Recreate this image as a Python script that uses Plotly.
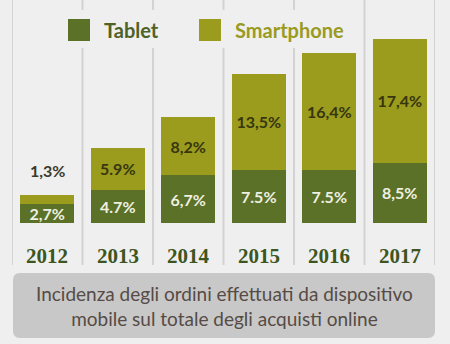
import plotly.graph_objects as go

years = ["2012", "2013", "2014", "2015", "2016", "2017"]
series_names = ["Tablet", "Smartphone"]
tablet = [2.7, 4.7, 6.7, 7.5, 7.5, 8.5]
smartphone = [1.3, 5.9, 8.2, 13.5, 16.4, 17.4]
tablet_labels = ["2,7%", "4.7%", "6,7%", "7.5%", "7.5%", "8,5%"]
smartphone_labels = ["1,3%", "5.9%", "8,2%", "13,5%", "16,4%", "17,4%"]
caption = "Incidenza degli ordini effettuati da dispositivo<br>mobile sul totale degli acquisti online"

W, H = 450, 344
BG = "#efefef"
C_TAB = "#5b7128"
C_SMA = "#9b9b1d"

def px_x(p):
    return p / W

def px_y(p):
    return 1 - p / H

zero_px = 223
top_px = 5
scale = 7.1  # px per percent
y_top = (zero_px - top_px) / scale

# inside labels; the small 2012 smartphone one sits above its bar
sma_text = [("" if v < 2 else t) for v, t in zip(smartphone, smartphone_labels)]

fig = go.Figure()
fig.add_trace(go.Bar(
    x=years, y=tablet, name=series_names[0], marker=dict(color=C_TAB, line=dict(width=0)),
    text=tablet_labels, textposition="inside", insidetextanchor="middle",
    constraintext="none", textangle=0,
    textfont=dict(family="Lato", size=16, color="#eef0e2", weight="bold"),
    showlegend=False,
))
fig.add_trace(go.Bar(
    x=years, y=smartphone, name=series_names[1], marker=dict(color=C_SMA, line=dict(width=0)),
    text=sma_text, textposition="inside", insidetextanchor="middle",
    constraintext="none", textangle=0,
    textfont=dict(family="Lato", size=16, color="#37360f", weight="bold"),
    showlegend=False,
))

annotations = []
for i, (yr, t, s) in enumerate(zip(years, tablet, smartphone)):
    annotations.append(dict(
        x=i, y=0, xref="x", yref="y", text=yr, showarrow=False,
        yanchor="top", yshift=-19,
        font=dict(family="Liberation Serif", size=21, color="#3d5520", weight="bold"),
    ))
    if s < 2:
        annotations.append(dict(
            x=i, y=t + s, xref="x", yref="y", text=smartphone_labels[i], showarrow=False,
            yanchor="bottom", yshift=13,
            font=dict(family="Lato", size=16, color="#3a3a2c", weight="bold"),
        ))

# manual legend
legend_items = [(series_names[0], C_TAB, "#4e6226", 68, 102), (series_names[1], C_SMA, "#9a9a1f", 199, 233)]
shapes = []
# vertical separators
for k in range(len(years) + 1):
    shapes.append(dict(type="line", xref="x", yref="paper",
                       x0=k - 0.5, x1=k - 0.5, y0=px_y(265), y1=px_y(0),
                       line=dict(color="#d3d3d3", width=2), layer="below"))
# legend mask over separators
shapes.append(dict(type="rect", xref="paper", yref="paper",
                   x0=px_x(58), x1=px_x(352), y0=px_y(48), y1=px_y(10),
                   fillcolor=BG, line=dict(width=0), layer="below"))
for name, fc, tc, sx, tx in legend_items:
    shapes.append(dict(type="rect", xref="paper", yref="paper",
                       x0=px_x(sx), x1=px_x(sx + 22), y0=px_y(41), y1=px_y(19),
                       fillcolor=fc, line=dict(width=0), layer="above"))
    annotations.append(dict(x=px_x(tx), y=px_y(30), xref="paper", yref="paper",
                            text=name, showarrow=False, xanchor="left", yanchor="middle",
                            font=dict(family="Lato", size=20, color=tc, weight="bold")))

# caption box with rounded corners
bx0, bx1, by0, by1, r = 13, 435, 273, 338, 7
path = (f"M {px_x(bx0 + r)},{px_y(by0)} L {px_x(bx1 - r)},{px_y(by0)} "
        f"Q {px_x(bx1)},{px_y(by0)} {px_x(bx1)},{px_y(by0 + r)} "
        f"L {px_x(bx1)},{px_y(by1 - r)} Q {px_x(bx1)},{px_y(by1)} {px_x(bx1 - r)},{px_y(by1)} "
        f"L {px_x(bx0 + r)},{px_y(by1)} Q {px_x(bx0)},{px_y(by1)} {px_x(bx0)},{px_y(by1 - r)} "
        f"L {px_x(bx0)},{px_y(by0 + r)} Q {px_x(bx0)},{px_y(by0)} {px_x(bx0 + r)},{px_y(by0)} Z")
shapes.append(dict(type="path", xref="paper", yref="paper", path=path,
                   fillcolor="#c8c8c8", line=dict(width=0), layer="above"))
annotations.append(dict(x=px_x((bx0 + bx1) / 2), y=px_y(305.5), xref="paper", yref="paper",
                        text=caption, showarrow=False, xanchor="center", yanchor="middle",
                        font=dict(family="Lato", size=19, color="#564b45")))

fig.update_layout(
    width=W, height=H, margin=dict(l=0, r=0, t=0, b=0),
    paper_bgcolor=BG, plot_bgcolor=BG,
    barmode="stack", bargap=0.234,
    xaxis=dict(domain=[px_x(12), px_x(435)], range=[-0.5, 5.5], type="category",
               showgrid=False, showticklabels=False, zeroline=False, showline=False, ticks=""),
    yaxis=dict(domain=[px_y(zero_px), px_y(top_px)], range=[0, y_top],
               showgrid=False, showticklabels=False, zeroline=False, showline=False, ticks=""),
    shapes=shapes, annotations=annotations,
    uniformtext=dict(mode=False),
)

fig.write_html("out.html")
